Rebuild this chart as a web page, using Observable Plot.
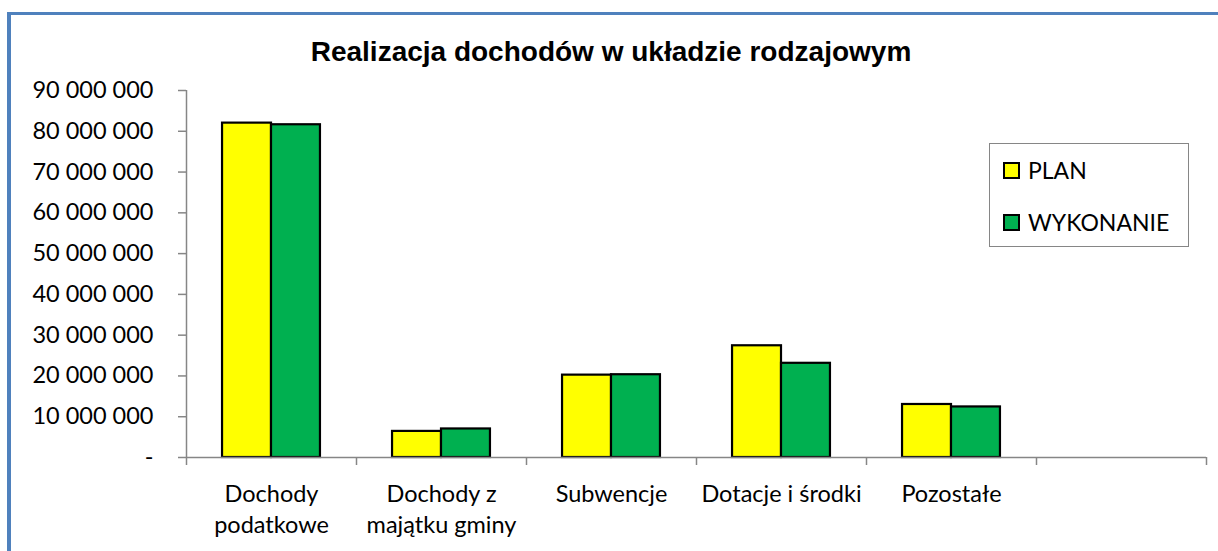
<!DOCTYPE html>
<html>
<head>
<meta charset="utf-8">
<script src="https://cdn.jsdelivr.net/npm/d3@7"></script>
<script src="https://cdn.jsdelivr.net/npm/@observablehq/plot@0.6"></script>
<style>
  html, body { margin: 0; padding: 0; background: #fff; }
  #wrap { position: relative; width: 1218px; height: 551px; overflow: hidden; background: #fff; }
  #frame { position: absolute; left: 7px; top: 12px; right: -20px; bottom: -20px;
           border-left: 4px solid #4F81BD; border-top: 3px solid #4F81BD; }
  #title { position: absolute; left: 0; width: 1222px; top: 38px; text-align: center;
           font-family: "Liberation Sans", Arial, sans-serif; font-weight: bold; font-size: 28px; line-height: 28px; color: #000; }
  #chart { position: absolute; left: 0; top: 70px; }
  #legend { position: absolute; left: 989px; top: 143px; width: 200px; height: 104px; box-sizing: border-box;
            border: 1px solid #868686; background: #fff; font-family: Lato, sans-serif; font-size: 23px; color: #000; }
  .sw { position: absolute; left: 13px; width: 17px; height: 17px; box-sizing: border-box; border: 2px solid #000; }
  .lt { position: absolute; left: 38px; line-height: 23px; white-space: nowrap; }
</style>
</head>
<body>
<div id="wrap">
  <div id="frame"></div>
  <div id="title">Realizacja dochodów w układzie rodzajowym</div>
  <div id="chart"></div>
  <div id="legend"></div>
</div>
<script>
// ---- data ----
const categories = ["Dochody\npodatkowe", "Dochody z\nmajątku gminy", "Subwencje", "Dotacje i środki", "Pozostałe"];
const series = ["PLAN", "WYKONANIE"];
const colors = ["#FFFF00", "#00B050"];
const plan = [82000000, 6400000, 20200000, 27400000, 13000000];
const wykonanie = [81600000, 7000000, 20300000, 23100000, 12400000];
const yTicks = [0, 10000000, 20000000, 30000000, 40000000, 50000000, 60000000, 70000000, 80000000, 90000000];
const bandCount = 6; // one empty category slot at the right, as in the original

// ---- table ----
const values = [plan, wykonanie];
const rows = categories.flatMap((c, i) => series.map((s, j) => ({cat: c, i, j, series: s, value: values[j][i]})));

const barW = 0.288;
const pad = (1 - 2 * barW) / 2;

const loc = d3.formatLocale({thousands: " ", grouping: [3], decimal: ","});
const fmt = loc.format(",");
const yFormat = v => v === 0 ? "-" : fmt(v);

const gray = "#868686";

const chart = Plot.plot({
  width: 1218,
  height: 481,
  marginLeft: 186,
  marginRight: 12,
  marginTop: 20,
  marginBottom: 94,
  x: {domain: [0, bandCount]},
  y: {domain: [0, 90000000]},
  color: {domain: series, range: colors},
  style: {fontFamily: "Lato, sans-serif", fontSize: "23.5px", color: "#000", background: "transparent"},
  marks: [
    Plot.rectY(rows, {
      x1: d => d.i + pad + d.j * barW,
      x2: d => d.i + pad + (d.j + 1) * barW,
      y: "value",
      fill: "series",
      stroke: "#000",
      strokeWidth: 2.2
    }),
    Plot.ruleX([0], {stroke: gray, strokeWidth: 1.5}),
    Plot.ruleY([0], {stroke: gray, strokeWidth: 1.5}),
    Plot.axisY({ticks: yTicks, tickFormat: yFormat, tickSize: 8, tickPadding: 25, stroke: gray, strokeWidth: 1.5,
                fill: "#000", fontSize: 23.5, label: null}),
    Plot.axisX({ticks: d3.range(0, bandCount + 1), tickFormat: () => "", tickSize: 8, stroke: gray, strokeWidth: 1.5, label: null}),
    Plot.axisX({ticks: categories.map((c, i) => i + 0.5), tickFormat: t => categories[Math.floor(t)],
                tickSize: 0, tickPadding: 23, lineHeight: 1.3, fontSize: 23.5, fill: "#000", label: null})
  ]
});
document.getElementById("chart").appendChild(chart);

// ---- legend ----
const legend = document.getElementById("legend");
series.forEach((s, j) => {
  const sw = document.createElement("div");
  sw.className = "sw";
  sw.style.top = (18 + j * 52) + "px";
  sw.style.background = colors[j];
  legend.appendChild(sw);
  const t = document.createElement("div");
  t.className = "lt";
  t.style.top = (15 + j * 52) + "px";
  t.textContent = s;
  legend.appendChild(t);
});
</script>
</body>
</html>
